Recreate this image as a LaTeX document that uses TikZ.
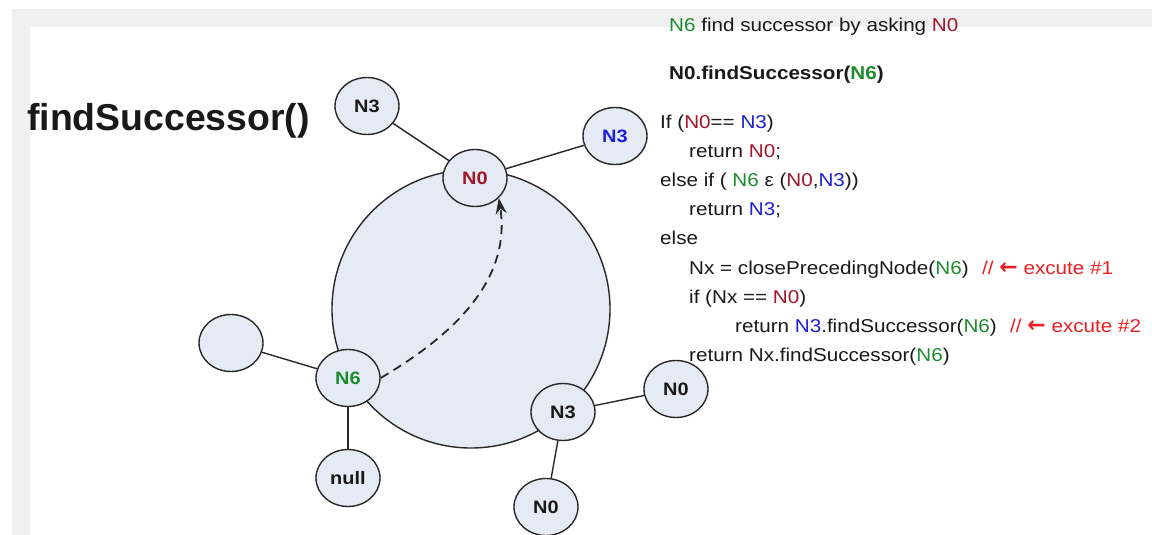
\documentclass[tikz,border=0pt]{standalone}
\usepackage{fontspec}
\setmainfont{Liberation Sans}
\newfontfamily\codefont[FakeStretch=1.11]{Liberation Sans}
\newfontfamily\symfont{DejaVu Sans}
\usetikzlibrary{shapes.geometric,arrows.meta}
\definecolor{nzero}{RGB}{160,22,42}
\definecolor{nthree}{RGB}{30,30,215}
\definecolor{nsix}{RGB}{30,140,45}
\definecolor{cmt}{RGB}{235,30,35}
\definecolor{ink}{RGB}{25,25,25}
\definecolor{linec}{RGB}{40,40,40}
\definecolor{ringfill}{RGB}{229,235,245}
\definecolor{framegray}{RGB}{240,240,240}
\newcommand{\Nz}{\textcolor{nzero}{N0}}
\newcommand{\Nt}{\textcolor{nthree}{N3}}
\newcommand{\Ns}{\textcolor{nsix}{N6}}
\begin{document}
\begin{tikzpicture}[x=1pt,y=-1pt,
  peer/.style={ellipse, draw=linec, fill=ringfill, line width=1.4pt,
    minimum width=64pt, minimum height=57pt, inner sep=0pt,
    font=\codefont\bfseries\fontsize{18}{20}\selectfont, text=ink},
  link/.style={draw=linec, line width=1.4pt},
  codeline/.style={anchor=base west, inner sep=0pt, text=ink,
    font=\codefont\fontsize{18.6}{22}\selectfont},
  comment/.style={codeline, text=cmt},
  hop/.style={draw=linec, line width=1.8pt, dash pattern=on 9pt off 6pt,
    -{Stealth[length=16pt,width=11pt]}}
]
\useasboundingbox (0,0) rectangle (1152,535);
\fill[framegray] (12,9) rectangle (1152,535);
\fill[white] (30,27) rectangle (1152,535);

% title
\node[anchor=base west, inner sep=0pt, text=ink,
  font=\bfseries\fontsize{37.4}{40}\selectfont] (title) at (27,130) {findSuccessor()};

% ring
\node[circle, draw=linec, fill=ringfill, line width=1.4pt, minimum size=278pt,
  inner sep=0pt] (ring) at (471,309) {};

% peers
\node[peer] (n0) at (475,178) {\textcolor{nzero}{N0}};
\node[peer] (n3a) at (367,106) {N3};
\node[peer] (n3b) at (615,136) {\textcolor{nthree}{N3}};
\node[peer] (n6) at (348,378) {\textcolor{nsix}{N6}};
\node[peer] (empty) at (231,343) {};
\node[peer] (nul) at (348,478) {null};
\node[peer] (n3c) at (563,412) {N3};
\node[peer] (n0r) at (676,389) {N0};
\node[peer] (n0b) at (546,507) {N0};

% links
\draw[link] (n3a) -- (n0);
\draw[link] (n0) -- (n3b);
\draw[link] (empty) -- (n6);
\draw[link] (n6) -- (nul);
\draw[link] (n3c) -- (n0r);
\draw[link] (n3c) -- (n0b);

% dashed hop
\draw[hop] (n6.east) .. controls (445,340) and (512,285) .. (n0.-40);

% code
\node[codeline] (l0) at (669,31.7) {\Ns{} find successor by asking \Nz};
\node[codeline, font=\codefont\bfseries\fontsize{18.6}{22}\selectfont] (l1) at (669,80) {N0.findSuccessor(\Ns)};
\node[codeline] (l2) at (660,128.5) {If (\Nz== \Nt)};
\node[codeline] (l3) at (689,157.6) {return \Nz;};
\node[codeline] (l4) at (660,186.7) {else if ( \Ns{} ε (\Nz,\Nt))};
\node[codeline] (l5) at (689,215.8) {return \Nt;};
\node[codeline] (l6) at (660,244.9) {else};
\node[codeline] (l7) at (689,274) {Nx = closePrecedingNode(\Ns)};
\node[comment] (c7) at (982,274) {// {\symfont\bfseries\fontsize{22}{22}\selectfont ←} excute \#1};
\node[codeline] (l8) at (689,303.1) {if (Nx == \Nz)};
\node[codeline] (l9) at (735,332.2) {return \Nt.findSuccessor(\Ns)};
\node[comment] (c9) at (1010,332.2) {// {\symfont\bfseries\fontsize{22}{22}\selectfont ←} excute \#2};
\node[codeline] (l10) at (689,361.3) {return Nx.findSuccessor(\Ns)};
\end{tikzpicture}
\end{document}
